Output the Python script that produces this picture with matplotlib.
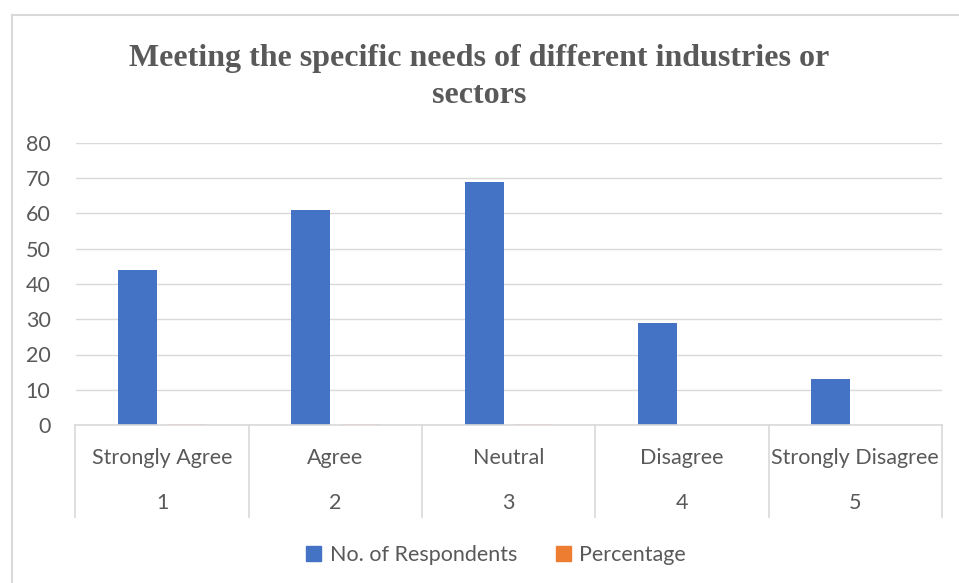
import numpy as np
import matplotlib.pyplot as plt
from matplotlib.lines import Line2D
from matplotlib.patches import Patch
import matplotlib.transforms as mtransforms

# dados do grafico
categorias = ["Strongly Agree", "Agree", "Neutral", "Disagree", "Strongly Disagree"]
numeros = ["1", "2", "3", "4", "5"]
respondentes = [44, 61, 69, 29, 13]
percentagem = [0.20, 0.28, 0.32, 0.13, 0.06]

azul = "#4472C4"
laranja = "#ED7D31"
cinza_texto = "#595959"
cinza_linha = "#D9D9D9"

W, H = 959, 583
fig = plt.figure(figsize=(W / 100, H / 100), dpi=100)

# posicao da area do grafico em pixels
x0, x1 = 75.5, 942
y_zero, y_topo = 425, 143
ax = fig.add_axes([x0 / W, (H - y_zero) / H, (x1 - x0) / W, (y_zero - y_topo) / H])

x = np.arange(len(categorias))
larg = 0.225
ax.bar(x - 0.142, respondentes, larg, color=azul, zorder=2)
ax.bar(x + 0.142, percentagem, larg, color=laranja, alpha=0.35, zorder=2)

ax.set_xlim(-0.5, len(categorias) - 0.5)
ax.set_ylim(0, 80)
ax.set_yticks(range(0, 81, 10))
ax.yaxis.grid(True, color=cinza_linha, linewidth=1, zorder=0)
ax.set_axisbelow(True)
ax.tick_params(axis="y", length=0, pad=18, labelsize=15.5, labelcolor=cinza_texto)
for lbl in ax.get_yticklabels():
    lbl.set_fontfamily("Lato")
ax.set_xticks([])
for s in ["top", "right", "left"]:
    ax.spines[s].set_visible(False)
ax.spines["bottom"].set_color(cinza_linha)
ax.spines["bottom"].set_linewidth(1.2)
ax.spines["bottom"].set_zorder(4)

# eixo com dois niveis
trans = mtransforms.blended_transform_factory(ax.transData, ax.transAxes)
px = 1 / (y_zero - y_topo)
for i in range(len(categorias)):
    ax.text(x[i], -(458 - y_zero) * px, categorias[i], transform=trans, ha="center", va="center",
            fontsize=15.5, color=cinza_texto, family="Lato")
    ax.text(x[i], -(503 - y_zero) * px, numeros[i], transform=trans, ha="center", va="center",
            fontsize=15.5, color=cinza_texto, family="Lato")
for b in np.arange(-0.5, len(categorias), 1.0):
    ax.add_line(Line2D([b, b], [0, -(517 - y_zero) * px], transform=trans, color=cinza_linha,
                       linewidth=1.2, clip_on=False))

fig.text(0.5, 1 - 77 / H, "Meeting the specific needs of different industries or\nsectors",
         ha="center", va="center", fontsize=23, fontweight="bold", color=cinza_texto,
         family="Liberation Serif", linespacing=1.4)

handles = [Patch(color=azul, label="No. of Respondents"), Patch(color=laranja, label="Percentage")]
fig.legend(handles=handles, loc="center", bbox_to_anchor=(496 / W, 1 - 555 / H), ncol=2,
           frameon=False, prop={"family": "Lato", "size": 15.5}, labelcolor=cinza_texto,
           handlelength=0.7, handleheight=0.7, handletextpad=0.4, columnspacing=1.8)

# borda externa
fig.add_artist(Line2D([11.5 / W, 11.5 / W], [0, 1 - 15 / H], transform=fig.transFigure,
                      color=cinza_linha, linewidth=1.5))
fig.add_artist(Line2D([11.5 / W, 1], [1 - 15 / H, 1 - 15 / H], transform=fig.transFigure,
                      color=cinza_linha, linewidth=1.5))

fig.savefig("out.png", dpi=100)
